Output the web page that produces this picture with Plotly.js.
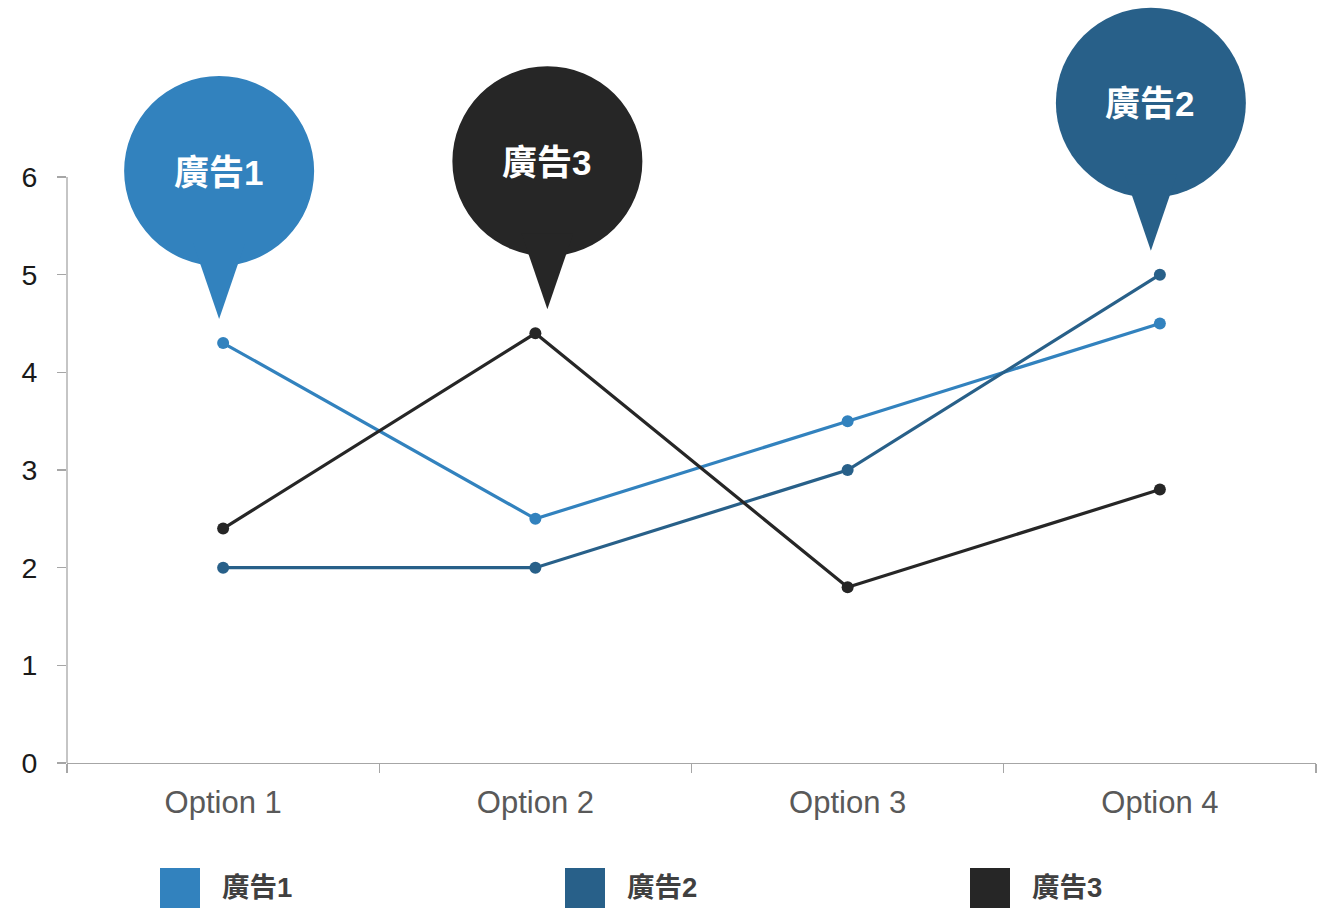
<!DOCTYPE html>
<html>
<head>
<meta charset="utf-8">
<script src="https://cdn.plot.ly/plotly-3.0.1.min.js"></script>
<style>html,body{margin:0;padding:0;background:#fff;}#chart{width:1335px;height:909px;}</style>
</head>
<body>
<div id="chart"></div>
<script>
// ---- data ----
const categories = ['Option 1', 'Option 2', 'Option 3', 'Option 4'];
const seriesNames = ['廣告1', '廣告2', '廣告3'];
const ad1 = [4.3, 2.5, 3.5, 4.5];
const ad2 = [2, 2, 3, 5];
const ad3 = [2.4, 4.4, 1.8, 2.8];
const pinCategories = ['Option 1', 'Option 4', 'Option 2'];
const yTickValues = [0, 1, 2, 3, 4, 5, 6];

// ---- style ----
const colors = ['#3282be', '#286089', '#262626'];
const pinDx = [-4, -9, 12];
const pinRise = 172, pinRadius = 95, tipRise = 24, baseRise = 100, baseHalf = 26;
const W = 1335, H = 909, mL = 67, mR = 19, mT = 0, mB = 146;
const plotW = W - mL - mR, plotH = H - mT - mB;
const pxPerUnit = 586 / 6;
const yTop = plotH / pxPerUnit;
const cjkFont = 'Liberation Sans, Arial, "Noto Sans CJK TC", sans-serif';

const allSeries = [ad1, ad2, ad3];
const traces = allSeries.map((vals, i) => ({
  type: 'scatter', mode: 'lines+markers', name: seriesNames[i],
  x: categories, y: vals,
  line: {color: colors[i], width: 3.2},
  marker: {color: colors[i], size: 12},
  cliponaxis: false, showlegend: false, hoverinfo: 'x+y+name'
}));

const shapes = [];
const annotations = [];

// y axis line from 0 to 6
shapes.push({type: 'line', xref: 'paper', yref: 'y', x0: 0, x1: 0, y0: 0, y1: yTickValues[yTickValues.length - 1],
  line: {color: '#a6a6a6', width: 1.3}, layer: 'above'});

// pins
seriesNames.forEach((name, i) => {
  const idx = categories.indexOf(pinCategories[i]);
  const cat = categories[idx];
  const val = allSeries[i][idx];
  const dx = pinDx[i];
  shapes.push({
    type: 'circle', xref: 'x', yref: 'y', xsizemode: 'pixel', ysizemode: 'pixel',
    xanchor: cat, yanchor: val,
    x0: dx - pinRadius, x1: dx + pinRadius, y0: pinRise - pinRadius, y1: pinRise + pinRadius,
    fillcolor: colors[i], line: {width: 0}, layer: 'above'
  });
  shapes.push({
    type: 'path', xref: 'x', yref: 'y', xsizemode: 'pixel', ysizemode: 'pixel',
    xanchor: cat, yanchor: val,
    path: `M ${dx} ${tipRise} L ${dx - baseHalf} ${baseRise} L ${dx + baseHalf} ${baseRise} Z`,
    fillcolor: colors[i], line: {width: 0}, layer: 'above'
  });
  annotations.push({
    xref: 'x', yref: 'y', x: cat, y: val, xshift: dx - 1, yshift: pinRise - 1,
    text: '<b>' + name + '</b>', showarrow: false, xanchor: 'center', yanchor: 'middle',
    font: {family: cjkFont, size: 35, color: '#ffffff'}
  });
});

// legend
const legendX = [160, 565, 970];
seriesNames.forEach((name, i) => {
  const x0 = (legendX[i] - mL) / plotW, x1 = (legendX[i] + 40 - mL) / plotW;
  const y0 = (plotH + mT - 908) / plotH, y1 = (plotH + mT - 868) / plotH;
  shapes.push({type: 'rect', xref: 'paper', yref: 'paper', x0: x0, x1: x1, y0: y0, y1: y1,
    fillcolor: colors[i], line: {width: 0}});
  annotations.push({xref: 'paper', yref: 'paper', x: (legendX[i] + 60 - mL) / plotW, y: (y0 + y1) / 2,
    xanchor: 'left', yanchor: 'middle', showarrow: false,
    text: '<b>' + name + '</b>', font: {family: cjkFont, size: 27.5, color: '#404040'}});
});

const layout = {
  width: W, height: H,
  margin: {l: mL, r: mR, t: mT, b: mB, pad: 0},
  paper_bgcolor: '#ffffff', plot_bgcolor: '#ffffff',
  showlegend: false,
  xaxis: {
    type: 'category', categoryorder: 'array', categoryarray: categories,
    range: [-0.5, categories.length - 0.5],
    showgrid: false, zeroline: false,
    showline: true, linecolor: '#a6a6a6', linewidth: 1.3,
    ticks: 'outside', tickson: 'boundaries', ticklen: 9, tickcolor: '#a6a6a6', tickwidth: 1.3,
    tickfont: {family: 'Liberation Sans, Arial, sans-serif', size: 31, color: '#595959'},
    ticklabelstandoff: 11, fixedrange: true
  },
  yaxis: {
    range: [0, yTop], tickvals: yTickValues, ticktext: yTickValues.map(String),
    showgrid: false, zeroline: false, showline: false,
    ticks: 'outside', ticklen: 9, tickcolor: '#a6a6a6', tickwidth: 1.3,
    tickfont: {family: 'Liberation Sans, Arial, sans-serif', size: 28.5, color: '#1a1a1a'},
    ticklabelstandoff: 14, fixedrange: true
  },
  shapes: shapes,
  annotations: annotations,
  font: {family: 'Liberation Sans, Arial, sans-serif'}
};

Plotly.newPlot('chart', traces, layout, {displayModeBar: false, staticPlot: true});
</script>
</body>
</html>
